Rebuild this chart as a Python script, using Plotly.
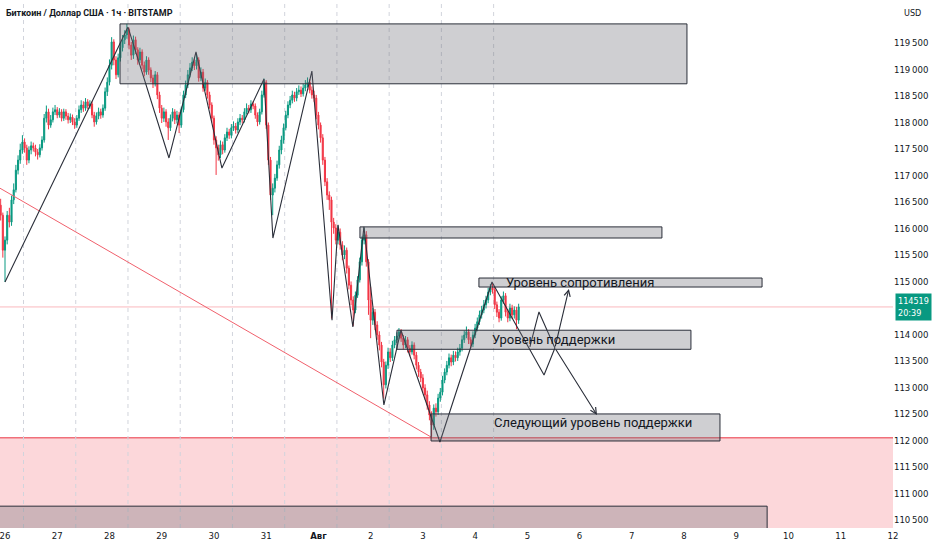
import pandas as pd
import plotly.graph_objects as go

# BTC/USD 1h candles, Bitstamp (Jul 25 22:00 -> Aug 4 20:00)
first_open = 116440
closes = [
    116250, 115590, 115780, 116250, 116120, 116540, 116730, 117100, 117290, 117480,
    117630, 117520, 117290, 117480, 117560, 117520, 117440, 117390, 117520, 117670,
    118080, 118200, 117950, 118050, 118200, 118240, 118140, 118200, 118080, 118200,
    118120, 118050, 118100, 118010, 117950, 118080, 118240, 118330, 118270, 118390,
    118310, 118350, 118140, 118010, 118120, 118200, 118140, 118270, 118580, 118760,
    119080, 119520, 119180, 118900, 119220, 119410, 119560, 119650, 119750, 119460,
    119270, 119560, 119370, 119180, 119330, 119080, 118950, 119180, 118990, 118840,
    118730, 118900, 118520, 118270, 118080, 118200, 118010, 117900, 118080, 118200,
    118050, 118140, 117950, 118240, 118520, 118710, 118900, 119030, 119140, 119070,
    119180, 118840, 118950, 118650, 118760, 118520, 118330, 118080, 117670, 117520,
    117390, 117580, 117480, 117710, 117820, 117760, 117900, 117930, 117860, 118010,
    118080, 118050, 118200, 118270, 118240, 118350, 118310, 118140, 118010, 118200,
    118520, 118760, 117950, 117290, 116630, 116760, 116950, 117200, 117480, 117670,
    117900, 118140, 118330, 118420, 118520, 118460, 118580, 118610, 118540, 118650,
    118710, 118760, 118610, 118520, 118460, 118140, 117950, 117710, 117290, 116880,
    116630, 116540, 116120, 116010, 115780, 115930, 115690, 115500, 115590, 115250,
    114930, 114650, 114460, 114740, 115030, 115370, 115780, 115880, 115370, 114650,
    114270, 114420, 114180, 113990, 113800, 113480, 113050, 113420, 113670, 113560,
    113800, 113900, 113970, 114050, 113930, 113800, 113900, 113740, 113670, 113800,
    113610, 113420, 113290, 113180, 112990, 112860, 112670, 112480, 112290, 112610,
    112540, 112800, 112910, 113140, 113290, 113420, 113560, 113480, 113610, 113560,
    113670, 113740, 113900, 113990, 114050, 113900, 113820, 113990, 114120, 114240,
    114370, 114460, 114560, 114650, 114800, 114880, 114840, 114560, 114420, 114310,
    114650, 114730, 114420, 114310, 114500, 114370, 114460, 114270, 114519]
highs = [
    116560, 116300, 115850, 116330, 116390, 116620, 116850, 117200, 117380, 117600,
    117760, 117700, 117580, 117550, 117640, 117620, 117580, 117500, 117590, 117740,
    118160, 118320, 118260, 118140, 118280, 118330, 118290, 118270, 118250, 118260,
    118250, 118180, 118170, 118150, 118080, 118140, 118320, 118420, 118400, 118460,
    118440, 118420, 118400, 118200, 118190, 118280, 118260, 118340, 118660, 118850,
    119190, 119610, 119570, 119250, 119300, 119500, 119650, 119740, 119860, 119790,
    119520, 119640, 119620, 119420, 119410, 119380, 119150, 119250, 119230, 119040,
    118900, 118970, 118950, 118580, 118330, 118280, 118250, 118080, 118150, 118270,
    118250, 118220, 118200, 118300, 118600, 118790, 118990, 119120, 119230, 119200,
    119290, 119230, 119040, 119010, 118830, 118800, 118580, 118380, 118130, 117740,
    117580, 117660, 117640, 117780, 117900, 117880, 117970, 118020, 117990, 118080,
    118160, 118140, 118270, 118360, 118330, 118420, 118400, 118360, 118190, 118260,
    118600, 118830, 118800, 118000, 117350, 116850, 117030, 117280, 117560, 117750,
    117980, 118220, 118400, 118500, 118600, 118580, 118650, 118700, 118680, 118730,
    118800, 118850, 118820, 118680, 118600, 118520, 118200, 118000, 117780, 117350,
    116950, 116700, 116600, 116200, 116080, 116060, 116000, 115760, 115680, 115640,
    115300, 115000, 114720, 114810, 115100, 115450, 115850, 116010, 115950, 115420,
    114900, 114500, 114480, 114250, 114060, 113860, 113540, 113490, 113750, 113740,
    113880, 113970, 114040, 114120, 114100, 113990, 113970, 113950, 113800, 113870,
    113850, 113670, 113480, 113350, 113250, 113060, 112940, 112740, 112550, 112680,
    112700, 112880, 112990, 113220, 113360, 113500, 113640, 113620, 113690, 113680,
    113750, 113820, 113980, 114070, 114150, 114100, 113950, 114060, 114200, 114320,
    114450, 114540, 114650, 114730, 114880, 114950, 114970, 114900, 114620, 114480,
    114720, 114810, 114780, 114480, 114580, 114560, 114530, 114520, 114580]
lows = [
    116150, 115450, 114990, 115700, 116020, 116050, 116460, 116680, 117020, 117220,
    117410, 117430, 117200, 117230, 117400, 117450, 117360, 117300, 117340, 117470,
    117620, 118000, 117870, 117900, 118000, 118140, 118080, 118090, 118020, 118030,
    118050, 117980, 117990, 117950, 117880, 117900, 118030, 118180, 118200, 118220,
    118250, 118260, 118080, 117920, 117960, 118060, 118070, 118090, 118220, 118500,
    118700, 119000, 119080, 118820, 118850, 119150, 119340, 119480, 119580, 119380,
    119180, 119200, 119290, 119090, 119120, 119000, 118870, 118900, 118900, 118760,
    118650, 118680, 118440, 118180, 117990, 118010, 117920, 117670, 117840, 118020,
    117970, 117980, 117800, 117900, 118190, 118460, 118650, 118850, 118970, 118990,
    119000, 118770, 118780, 118580, 118600, 118450, 118260, 118000, 117580, 117010,
    117280, 117330, 117400, 117430, 117650, 117690, 117700, 117840, 117790, 117800,
    117950, 117980, 118000, 118150, 118170, 118180, 118250, 118070, 117930, 117960,
    118150, 118470, 117880, 117200, 116540, 116250, 116680, 116900, 117130, 117400,
    117600, 117850, 118080, 118270, 118360, 118390, 118400, 118520, 118480, 118490,
    118590, 118660, 118550, 118450, 118390, 118060, 117870, 117620, 117200, 116800,
    116540, 116350, 114300, 115900, 115700, 115700, 115600, 115400, 115420, 115150,
    114850, 114550, 114160, 114400, 114690, 114980, 115300, 115700, 115280, 114370,
    113930, 114180, 114080, 113900, 113700, 113380, 112790, 112980, 113350, 113480,
    113500, 113740, 113840, 113910, 113860, 113720, 113740, 113660, 113590, 113620,
    113530, 113340, 113200, 113100, 112900, 112770, 112580, 112380, 112070, 112200,
    112450, 112480, 112730, 112850, 113080, 113230, 113360, 113400, 113420, 113490,
    113500, 113600, 113680, 113840, 113930, 113820, 113740, 113760, 113930, 114060,
    114180, 114300, 114400, 114490, 114590, 114740, 114770, 114480, 114330, 114230,
    114260, 114580, 114340, 114230, 114250, 114290, 114300, 114100, 114200]
opens = [first_open] + closes[:-1]
times = pd.date_range('2025-07-25 22:00', periods=len(closes), freq='h')
last_price = closes[-1]

# zigzag drawn over the chart
zz_time = ['2025-07-26 00:00', '2025-07-28 08:30', '2025-07-29 03:20', '2025-07-29 15:45',
           '2025-07-30 03:40', '2025-07-30 23:00', '2025-07-31 03:05', '2025-07-31 21:00',
           '2025-08-01 06:15', '2025-08-01 09:00', '2025-08-01 15:50', '2025-08-01 20:55',
           '2025-08-02 06:05', '2025-08-02 13:55', '2025-08-03 07:50', '2025-08-04 07:45',
           '2025-08-05 07:40', '2025-08-05 12:40']
zz_price = [114990, 119800, 117330, 119330, 117140, 118820, 115820, 118970,
            114270, 116070, 114140, 116030, 112670, 114080, 111970, 114990,
            113235, 113745]

# second scenario
alt_time = ['2025-08-05 01:10', '2025-08-05 05:20', '2025-08-05 12:40']
alt_price = [113765, 114425, 113745]

# arrows (tail -> head)
arrow_tail_time = ['2025-08-05 12:40', '2025-08-05 12:40']
arrow_tail_price = [113745, 113745]
arrow_head_time = ['2025-08-05 19:05', '2025-08-06 08:00']
arrow_head_price = [114860, 112480]

# red trend line
trend_time = ['2025-07-25 21:40', '2025-08-03 03:45']
trend_price = [116760, 112065]

# gray zones
zone_t0 = ['2025-07-28 04:50', '2025-08-01 19:05', '2025-08-04 01:45', '2025-08-02 12:05', '2025-08-03 03:45']
zone_t1 = ['2025-08-08 01:20', '2025-08-07 13:50', '2025-08-09 11:50', '2025-08-08 03:10', '2025-08-08 16:30']
zone_top = [119860, 116030, 115065, 114080, 112500]
zone_bot = [118730, 115820, 114895, 113720, 111990]

# bottom dark zone and red demand zone
low_zone_end = '2025-08-09 14:10'
low_zone_top = 110760
red_zone_top = 112050

label_text = ['Уровень сопротивления', 'Уровень поддержки', 'Следующий уровень поддержки']
label_time = ['2025-08-04 13:15', '2025-08-04 06:50', '2025-08-04 07:45']
label_price = [114985, 113900, 112330]

day_ticks = pd.date_range('2025-07-26', '2025-08-12', freq='D')
day_text = ['26', '27', '28', '29', '30', '31', '<b>Авг</b>', '2', '3', '4', '5', '6',
            '7', '8', '9', '10', '11', '12']
session_breaks = pd.date_range('2025-07-26 08:30', '2025-08-04 08:30', freq='D')

price_ticks = [110500, 111000, 111500, 112000, 112500, 113000, 113500, 114000,
               115000, 115500, 116000, 116500, 117000, 117500, 118000, 118500,
               119000, 119500]

x_range = ['2025-07-25 21:42', '2025-08-12 00:00']
y_range = [110348, 120311]

GREEN = '#089981'
RED = '#F23645'
INK = '#2a2e39'
FONT = 'Liberation Sans Narrow, DejaVu Sans Condensed, Roboto, sans-serif'

fig = go.Figure()

fig.add_trace(go.Candlestick(
    x=times, open=opens, high=highs, low=lows, close=closes,
    increasing=dict(line=dict(color=GREEN, width=1), fillcolor=GREEN),
    decreasing=dict(line=dict(color=RED, width=1), fillcolor=RED),
    whiskerwidth=0, hoverinfo='skip'))

fig.add_trace(go.Scatter(x=trend_time, y=trend_price, mode='lines',
                         line=dict(color='#f0606c', width=1), hoverinfo='skip'))
fig.add_trace(go.Scatter(x=zz_time, y=zz_price, mode='lines',
                         line=dict(color=INK, width=1.1), hoverinfo='skip'))
fig.add_trace(go.Scatter(x=alt_time, y=alt_price, mode='lines',
                         line=dict(color=INK, width=1.1), hoverinfo='skip'))

for t0, t1, y0, y1 in zip(arrow_tail_time, arrow_head_time, arrow_tail_price, arrow_head_price):
    fig.add_annotation(x=t1, y=y1, ax=t0, ay=y0, xref='x', yref='y', axref='x', ayref='y',
                       text='', showarrow=True, arrowhead=5, arrowsize=1.1,
                       arrowwidth=1.1, arrowcolor=INK)

# red zone + its top line
fig.add_shape(type='rect', xref='paper', yref='y', x0=0, x1=1, y0=y_range[0] - 500,
              y1=red_zone_top, fillcolor='rgba(242,54,69,0.2)', line_width=0, layer='below')
fig.add_shape(type='line', xref='paper', yref='y', x0=0, x1=1, y0=red_zone_top,
              y1=red_zone_top, line=dict(color='#f0707a', width=1.6), layer='below')
# current price line
fig.add_shape(type='line', xref='paper', yref='y', x0=0, x1=1, y0=last_price,
              y1=last_price, line=dict(color='rgba(242,54,69,0.35)', width=1), layer='below')

for t in session_breaks:
    fig.add_shape(type='line', xref='x', yref='paper', x0=t, x1=t, y0=0, y1=1,
                  line=dict(color='#d1d4dc', width=1, dash='4px,4px'), layer='below')

for t0, t1, y0, y1 in zip(zone_t0, zone_t1, zone_bot, zone_top):
    fig.add_shape(type='rect', xref='x', yref='y', x0=t0, x1=t1, y0=y0, y1=y1,
                  fillcolor='rgba(110,110,118,0.33)', line=dict(color=INK, width=1),
                  layer='above')

fig.add_shape(type='rect', xref='x', yref='y', x0='2025-07-24 00:00', x1=low_zone_end,
              y0=y_range[0] - 500, y1=low_zone_top, fillcolor='rgba(110,110,118,0.33)',
              line=dict(color=INK, width=1), layer='above')

for txt, t, p in zip(label_text, label_time, label_price):
    fig.add_annotation(x=t, y=p, xref='x', yref='y', text=txt, showarrow=False,
                       xanchor='left', yanchor='middle',
                       font=dict(family='Roboto, sans-serif', size=13, color='#131722'))

fig.add_annotation(x=0.004, y=0.975, xref='paper', yref='paper', xanchor='left',
                   yanchor='middle', showarrow=False,
                   text='<b>Биткоин / Доллар США · 1ч · BITSTAMP</b>',
                   font=dict(family='Roboto, sans-serif', size=9, color='#131722'))
fig.add_annotation(x=1.022, y=0.975, xref='paper', yref='paper', xanchor='center',
                   yanchor='middle', showarrow=False, text='USD',
                   font=dict(family=FONT, size=9, color='#131722'))
fig.add_annotation(x=1.002, y=last_price, xref='paper', yref='y', xanchor='left',
                   yanchor='middle', showarrow=False, align='left',
                   text='%d<br>20:39' % last_price, bgcolor=GREEN, borderpad=2,
                   font=dict(family=FONT, size=9, color='white'))

fig.update_layout(
    width=932, height=550,
    margin=dict(l=0, r=39, t=0, b=22),
    plot_bgcolor='white', paper_bgcolor='white',
    showlegend=False,
    xaxis=dict(type='date', range=x_range, tickvals=day_ticks, ticktext=day_text,
               showgrid=False, zeroline=False, showline=False, ticks='',
               ticklabeloverflow='allow', rangeslider=dict(visible=False),
               tickfont=dict(family=FONT, size=9.5, color='#131722')),
    yaxis=dict(side='right', range=y_range, tickvals=price_ticks,
               ticktext=['%d\u2009%03d' % (v // 1000, v % 1000) for v in price_ticks],
               showgrid=False, zeroline=False, showline=False, ticks='',
               ticklabeloverflow='allow',
               tickfont=dict(family=FONT, size=9.5, color='#131722')),
)

fig.write_html('out.html', config={'displayModeBar': False},
               post_script="document.body.style.margin='0';")
